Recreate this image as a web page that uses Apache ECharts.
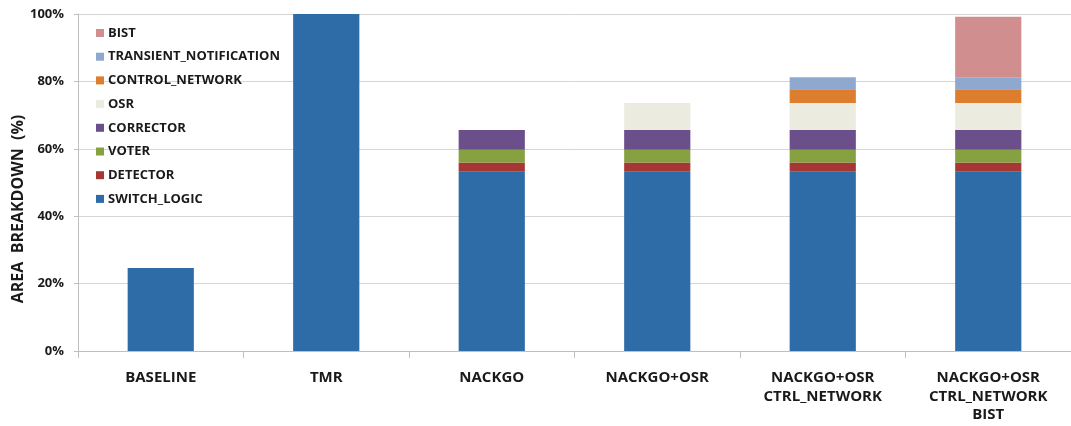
<!DOCTYPE html>
<html>
<head>
<meta charset="utf-8">
<script src="https://cdn.jsdelivr.net/npm/echarts@6/dist/echarts.min.js"></script>
<style>
  html, body { margin: 0; padding: 0; background: #fff; }
  #chart { width: 1071px; height: 426px; }
</style>
</head>
<body>
<div id="chart"></div>
<script>
// Design variants along the x axis
const categories = [
  'BASELINE',
  'TMR',
  'NACKGO',
  'NACKGO+OSR',
  'NACKGO+OSR\nCTRL_NETWORK',
  'NACKGO+OSR\nCTRL_NETWORK\nBIST'
];

// Area share (%) of each component, per design variant
const switchLogic   = [24.6, 100, 53.2, 53.2, 53.2, 53.2];
const detector      = [null, null, 2.7, 2.7, 2.7, 2.7];
const voter         = [null, null, 3.8, 3.8, 3.8, 3.8];
const corrector     = [null, null, 5.9, 5.9, 5.9, 5.9];
const osr           = [null, null, null, 8.0, 8.0, 8.0];
const controlNet    = [null, null, null, null, 4.1, 4.1];
const transientNote = [null, null, null, null, 3.5, 3.5];
const bist          = [null, null, null, null, null, 18.0];

const yTicks = [0, 20, 40, 60, 80, 100];
const yTitle = 'AREA  BREAKDOWN  (%)';

const seriesDefs = [
  { name: 'SWITCH_LOGIC', data: switchLogic, color: '#2e6ca8' },
  { name: 'DETECTOR', data: detector, color: '#a53835' },
  { name: 'VOTER', data: voter, color: '#86a13f' },
  { name: 'CORRECTOR', data: corrector, color: '#6a4f8b' },
  { name: 'OSR', data: osr, color: '#ebebe0' },
  { name: 'CONTROL_NETWORK', data: controlNet, color: '#dc7e2d' },
  { name: 'TRANSIENT_NOTIFICATION', data: transientNote, color: '#8fa8d0' },
  { name: 'BIST', data: bist, color: '#d08e8e' }
];

const FONT = '"Open Sans", sans-serif';
const TEXT = '#1a1a1a';

const chart = echarts.init(document.getElementById('chart'), null, { renderer: 'canvas' });

chart.setOption({
  animation: false,
  backgroundColor: '#ffffff',
  grid: { left: 78, right: 0, top: 14, bottom: 75, outerBoundsMode: 'none', containLabel: false },
  legend: {
    orient: 'vertical',
    left: 96,
    top: 26.5,
    padding: 0,
    icon: 'rect',
    itemWidth: 8,
    itemHeight: 8,
    itemGap: 10.7,
    data: seriesDefs.map(s => s.name).reverse(),
    textStyle: { fontFamily: FONT, fontWeight: 'bold', fontSize: 13, color: TEXT, padding: [0, 0, 0, -1] }
  },
  // Vertical axis title, centred on the full chart height
  graphic: [{
    type: 'text',
    x: 18.5,
    y: 209,
    rotation: Math.PI / 2,
    style: {
      text: yTitle,
      fontFamily: FONT,
      fontWeight: 'bold',
      fontSize: 16,
      fill: TEXT,
      align: 'center',
      verticalAlign: 'middle'
    }
  }],
  xAxis: {
    type: 'category',
    data: categories,
    axisLine: { lineStyle: { color: '#bfbfbf', width: 1 } },
    axisTick: { show: true, length: 7, lineStyle: { color: '#bfbfbf' } },
    axisLabel: {
      margin: 18,
      fontFamily: FONT,
      fontWeight: 'bold',
      fontSize: 15,
      lineHeight: 18.2,
      color: TEXT
    }
  },
  yAxis: {
    type: 'value',
    min: 0,
    max: 100,
    interval: 20,
    axisLine: { show: true, lineStyle: { color: '#bfbfbf' } },
    axisTick: { show: true, length: 4, lineStyle: { color: '#bfbfbf' } },
    splitLine: { lineStyle: { color: '#d6d6d6', width: 1 } },
    axisLabel: {
      margin: 14,
      fontFamily: FONT,
      fontWeight: 'bold',
      fontSize: 13,
      color: TEXT,
      formatter: v => (yTicks.includes(v) ? v + '%' : '')
    }
  },
  series: seriesDefs.map(s => ({
    name: s.name,
    type: 'bar',
    stack: 'area',
    data: s.data,
    barCategoryGap: '60%',
    itemStyle: { color: s.color },
    emphasis: { disabled: true }
  }))
});
</script>
</body>
</html>
